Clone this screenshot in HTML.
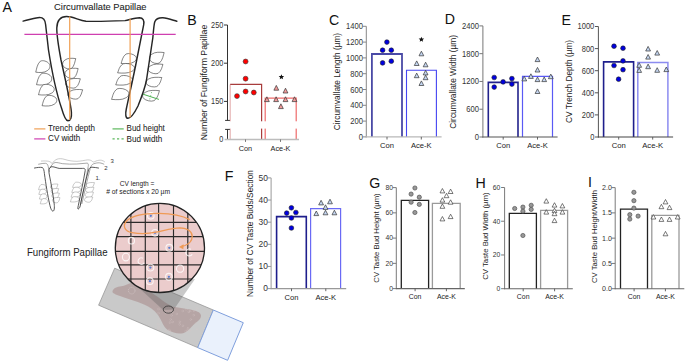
<!DOCTYPE html>
<html><head><meta charset="utf-8"><title>Figure</title>
<style>html,body{margin:0;padding:0;background:#fff;width:685px;height:364px;overflow:hidden;font-family:"Liberation Sans", sans-serif;}</style>
</head><body>
<svg width="685" height="364" viewBox="0 0 685 364" style="position:absolute;left:0;top:0" font-family='"Liberation Sans", sans-serif'>
<rect width="685" height="364" fill="#fff"/>
<text x="2.4" y="11.8" font-size="14.2" fill="#111" text-anchor="start" >A</text>
<text x="54.1" y="9.75" font-size="9.35" fill="#1e1e1e" text-anchor="start" stroke="#222" stroke-width="0.08">Circumvallate Papillae</text>
<path transform="translate(42.80,67.00) rotate(180) scale(0.944,1.058)" d="M2.6,5.5 C0,6.6 -4.6,5.6 -6.8,3 C-8.4,1.2 -7.4,-2.2 -4.8,-3.4 C-2,-5.6 3.5,-5.4 7.5,-4.9 C6.6,-2.4 6.2,2.6 2.6,5.5 Z" fill="#fff" stroke="#333" stroke-width="0.599" vector-effect="none"/>
<path transform="translate(44.10,79.50) rotate(180) scale(1.014,1.058)" d="M2.6,5.5 C0,6.6 -4.6,5.6 -6.8,3 C-8.4,1.2 -7.4,-2.2 -4.8,-3.4 C-2,-5.6 3.5,-5.4 7.5,-4.9 C6.6,-2.4 6.2,2.6 2.6,5.5 Z" fill="#fff" stroke="#333" stroke-width="0.579" vector-effect="none"/>
<path transform="translate(46.30,90.00) rotate(180) scale(1.049,0.962)" d="M2.6,5.5 C0,6.6 -4.6,5.6 -6.8,3 C-8.4,1.2 -7.4,-2.2 -4.8,-3.4 C-2,-5.6 3.5,-5.4 7.5,-4.9 C6.6,-2.4 6.2,2.6 2.6,5.5 Z" fill="#fff" stroke="#333" stroke-width="0.597" vector-effect="none"/>
<path transform="translate(49.40,101.00) rotate(180) scale(0.979,0.962)" d="M2.6,5.5 C0,6.6 -4.6,5.6 -6.8,3 C-8.4,1.2 -7.4,-2.2 -4.8,-3.4 C-2,-5.6 3.5,-5.4 7.5,-4.9 C6.6,-2.4 6.2,2.6 2.6,5.5 Z" fill="#fff" stroke="#333" stroke-width="0.618" vector-effect="none"/>
<path transform="translate(69.20,63.30) rotate(0) scale(0.874,0.962)" d="M2.6,5.5 C0,6.6 -4.6,5.6 -6.8,3 C-8.4,1.2 -7.4,-2.2 -4.8,-3.4 C-2,-5.6 3.5,-5.4 7.5,-4.9 C6.6,-2.4 6.2,2.6 2.6,5.5 Z" fill="#fff" stroke="#333" stroke-width="0.654" vector-effect="none"/>
<path transform="translate(71.60,73.00) rotate(0) scale(0.874,0.913)" d="M2.6,5.5 C0,6.6 -4.6,5.6 -6.8,3 C-8.4,1.2 -7.4,-2.2 -4.8,-3.4 C-2,-5.6 3.5,-5.4 7.5,-4.9 C6.6,-2.4 6.2,2.6 2.6,5.5 Z" fill="#fff" stroke="#333" stroke-width="0.671" vector-effect="none"/>
<path transform="translate(73.00,83.00) rotate(0) scale(0.979,0.865)" d="M2.6,5.5 C0,6.6 -4.6,5.6 -6.8,3 C-8.4,1.2 -7.4,-2.2 -4.8,-3.4 C-2,-5.6 3.5,-5.4 7.5,-4.9 C6.6,-2.4 6.2,2.6 2.6,5.5 Z" fill="#fff" stroke="#333" stroke-width="0.651" vector-effect="none"/>
<path transform="translate(75.30,94.00) rotate(0) scale(0.979,0.865)" d="M2.6,5.5 C0,6.6 -4.6,5.6 -6.8,3 C-8.4,1.2 -7.4,-2.2 -4.8,-3.4 C-2,-5.6 3.5,-5.4 7.5,-4.9 C6.6,-2.4 6.2,2.6 2.6,5.5 Z" fill="#fff" stroke="#333" stroke-width="0.651" vector-effect="none"/>
<path transform="translate(128.70,59.00) rotate(180) scale(1.014,0.913)" d="M2.6,5.5 C0,6.6 -4.6,5.6 -6.8,3 C-8.4,1.2 -7.4,-2.2 -4.8,-3.4 C-2,-5.6 3.5,-5.4 7.5,-4.9 C6.6,-2.4 6.2,2.6 2.6,5.5 Z" fill="#fff" stroke="#333" stroke-width="0.623" vector-effect="none"/>
<path transform="translate(126.00,68.60) rotate(180) scale(1.119,0.865)" d="M2.6,5.5 C0,6.6 -4.6,5.6 -6.8,3 C-8.4,1.2 -7.4,-2.2 -4.8,-3.4 C-2,-5.6 3.5,-5.4 7.5,-4.9 C6.6,-2.4 6.2,2.6 2.6,5.5 Z" fill="#fff" stroke="#333" stroke-width="0.605" vector-effect="none"/>
<path transform="translate(124.10,80.60) rotate(180) scale(1.119,0.865)" d="M2.6,5.5 C0,6.6 -4.6,5.6 -6.8,3 C-8.4,1.2 -7.4,-2.2 -4.8,-3.4 C-2,-5.6 3.5,-5.4 7.5,-4.9 C6.6,-2.4 6.2,2.6 2.6,5.5 Z" fill="#fff" stroke="#333" stroke-width="0.605" vector-effect="none"/>
<path transform="translate(120.20,94.40) rotate(180) scale(1.154,1.010)" d="M2.6,5.5 C0,6.6 -4.6,5.6 -6.8,3 C-8.4,1.2 -7.4,-2.2 -4.8,-3.4 C-2,-5.6 3.5,-5.4 7.5,-4.9 C6.6,-2.4 6.2,2.6 2.6,5.5 Z" fill="#fff" stroke="#333" stroke-width="0.555" vector-effect="none"/>
<path transform="translate(156.80,57.50) rotate(0) scale(0.979,1.010)" d="M2.6,5.5 C0,6.6 -4.6,5.6 -6.8,3 C-8.4,1.2 -7.4,-2.2 -4.8,-3.4 C-2,-5.6 3.5,-5.4 7.5,-4.9 C6.6,-2.4 6.2,2.6 2.6,5.5 Z" fill="#fff" stroke="#333" stroke-width="0.603" vector-effect="none"/>
<path transform="translate(155.60,68.60) rotate(0) scale(0.979,0.865)" d="M2.6,5.5 C0,6.6 -4.6,5.6 -6.8,3 C-8.4,1.2 -7.4,-2.2 -4.8,-3.4 C-2,-5.6 3.5,-5.4 7.5,-4.9 C6.6,-2.4 6.2,2.6 2.6,5.5 Z" fill="#fff" stroke="#333" stroke-width="0.651" vector-effect="none"/>
<path transform="translate(154.00,81.80) rotate(0) scale(1.049,0.865)" d="M2.6,5.5 C0,6.6 -4.6,5.6 -6.8,3 C-8.4,1.2 -7.4,-2.2 -4.8,-3.4 C-2,-5.6 3.5,-5.4 7.5,-4.9 C6.6,-2.4 6.2,2.6 2.6,5.5 Z" fill="#fff" stroke="#333" stroke-width="0.627" vector-effect="none"/>
<path transform="translate(151.10,95.40) rotate(0) scale(1.119,0.962)" d="M2.6,5.5 C0,6.6 -4.6,5.6 -6.8,3 C-8.4,1.2 -7.4,-2.2 -4.8,-3.4 C-2,-5.6 3.5,-5.4 7.5,-4.9 C6.6,-2.4 6.2,2.6 2.6,5.5 Z" fill="#fff" stroke="#333" stroke-width="0.577" vector-effect="none"/>
<path d="M23.1,21.1 C30,19.6 36,17.4 39.5,17.4 C43.5,17.6 45.3,20.2 45.6,24.5 L48.5,50 C52,72 57,95 61.5,108 C63.5,115 65.5,120.8 68,120.8 C70.8,120.8 71.8,117 71.4,112 C70.5,103 65.5,80 61,60 C58.6,47 56.6,36 56.8,28 C57,21 60.5,16.6 66.5,16.5 C73,16.4 79,20.4 86,21.2 C95,21.6 115,21 125,20.6 C130,19.6 134.5,17.8 139.5,17.8 C143,17.9 144.4,20.5 143.7,24.6 L136.9,59 C133.5,77 129,96 126.3,109 C125.2,114 125.6,118.4 128,118.3 C131,118.1 135,112 138,106 C142,96 145,88 146.5,80 L152.8,38 C153.6,30 153.8,25 154.8,21.8 C156,18.6 158.8,17.7 162.8,17.8 C168,18.2 173,20.2 176.8,21.2" fill="none" stroke="#262626" stroke-width="1.45" stroke-linejoin="round" stroke-linecap="round"/>
<line x1="24.4" y1="34.3" x2="175.7" y2="34.3" stroke="#cf3fb0" stroke-width="1.2"/>
<line x1="69.7" y1="16.6" x2="69.7" y2="120" stroke="#f0a055" stroke-width="1.2"/>
<line x1="130.1" y1="18.7" x2="130.1" y2="117.5" stroke="#f0a055" stroke-width="1.2"/>
<line x1="143" y1="94.2" x2="158.9" y2="99.4" stroke="#4caf50" stroke-width="1"/><line x1="151.6" y1="92.2" x2="149.6" y2="99.6" stroke="#4caf50" stroke-width="0.8" stroke-dasharray="1,2.2"/>
<line x1="34.2" y1="128.9" x2="45.4" y2="128.9" stroke="#f0a055" stroke-width="1.2"/>
<line x1="34.2" y1="138.9" x2="45.4" y2="138.9" stroke="#cf3fb0" stroke-width="1.2"/>
<line x1="112.5" y1="128.9" x2="123.7" y2="128.9" stroke="#5cb85c" stroke-width="1.2"/>
<line x1="112.5" y1="138.9" x2="123.7" y2="138.9" stroke="#5cb85c" stroke-width="1.2" stroke-dasharray="2.2,2.3"/>
<text x="48.1" y="130.5" font-size="8.6" fill="#222" text-anchor="start" stroke="#222" stroke-width="0.05" textLength="46.8" lengthAdjust="spacingAndGlyphs">Trench depth</text>
<text x="48.1" y="141.3" font-size="8.6" fill="#222" text-anchor="start" stroke="#222" stroke-width="0.05" textLength="32.2" lengthAdjust="spacingAndGlyphs">CV width</text>
<text x="126.6" y="130.5" font-size="8.6" fill="#222" text-anchor="start" stroke="#222" stroke-width="0.05" textLength="38.2" lengthAdjust="spacingAndGlyphs">Bud height</text>
<text x="126.6" y="141.5" font-size="8.6" fill="#222" text-anchor="start" stroke="#222" stroke-width="0.05" textLength="35.6" lengthAdjust="spacingAndGlyphs">Bud width</text>
<path transform="translate(42.30,187.30) rotate(180) scale(0.503,0.481)" d="M2.6,5.5 C0,6.6 -4.6,5.6 -6.8,3 C-8.4,1.2 -7.4,-2.2 -4.8,-3.4 C-2,-5.6 3.5,-5.4 7.5,-4.9 C6.6,-2.4 6.2,2.6 2.6,5.5 Z" fill="#fff" stroke="#888" stroke-width="0.914" vector-effect="none"/>
<path transform="translate(42.60,192.00) rotate(180) scale(0.503,0.481)" d="M2.6,5.5 C0,6.6 -4.6,5.6 -6.8,3 C-8.4,1.2 -7.4,-2.2 -4.8,-3.4 C-2,-5.6 3.5,-5.4 7.5,-4.9 C6.6,-2.4 6.2,2.6 2.6,5.5 Z" fill="#fff" stroke="#888" stroke-width="0.914" vector-effect="none"/>
<path transform="translate(43.20,196.70) rotate(180) scale(0.503,0.481)" d="M2.6,5.5 C0,6.6 -4.6,5.6 -6.8,3 C-8.4,1.2 -7.4,-2.2 -4.8,-3.4 C-2,-5.6 3.5,-5.4 7.5,-4.9 C6.6,-2.4 6.2,2.6 2.6,5.5 Z" fill="#fff" stroke="#888" stroke-width="0.914" vector-effect="none"/>
<path transform="translate(44.00,201.40) rotate(180) scale(0.503,0.481)" d="M2.6,5.5 C0,6.6 -4.6,5.6 -6.8,3 C-8.4,1.2 -7.4,-2.2 -4.8,-3.4 C-2,-5.6 3.5,-5.4 7.5,-4.9 C6.6,-2.4 6.2,2.6 2.6,5.5 Z" fill="#fff" stroke="#888" stroke-width="0.914" vector-effect="none"/>
<path transform="translate(54.20,186.50) rotate(0) scale(0.503,0.481)" d="M2.6,5.5 C0,6.6 -4.6,5.6 -6.8,3 C-8.4,1.2 -7.4,-2.2 -4.8,-3.4 C-2,-5.6 3.5,-5.4 7.5,-4.9 C6.6,-2.4 6.2,2.6 2.6,5.5 Z" fill="#fff" stroke="#888" stroke-width="0.914" vector-effect="none"/>
<path transform="translate(54.90,191.00) rotate(0) scale(0.503,0.481)" d="M2.6,5.5 C0,6.6 -4.6,5.6 -6.8,3 C-8.4,1.2 -7.4,-2.2 -4.8,-3.4 C-2,-5.6 3.5,-5.4 7.5,-4.9 C6.6,-2.4 6.2,2.6 2.6,5.5 Z" fill="#fff" stroke="#888" stroke-width="0.914" vector-effect="none"/>
<path transform="translate(55.60,195.50) rotate(0) scale(0.503,0.481)" d="M2.6,5.5 C0,6.6 -4.6,5.6 -6.8,3 C-8.4,1.2 -7.4,-2.2 -4.8,-3.4 C-2,-5.6 3.5,-5.4 7.5,-4.9 C6.6,-2.4 6.2,2.6 2.6,5.5 Z" fill="#fff" stroke="#888" stroke-width="0.914" vector-effect="none"/>
<path transform="translate(56.20,200.00) rotate(0) scale(0.503,0.481)" d="M2.6,5.5 C0,6.6 -4.6,5.6 -6.8,3 C-8.4,1.2 -7.4,-2.2 -4.8,-3.4 C-2,-5.6 3.5,-5.4 7.5,-4.9 C6.6,-2.4 6.2,2.6 2.6,5.5 Z" fill="#fff" stroke="#888" stroke-width="0.914" vector-effect="none"/>
<path transform="translate(77.00,185.00) rotate(180) scale(0.594,0.481)" d="M2.6,5.5 C0,6.6 -4.6,5.6 -6.8,3 C-8.4,1.2 -7.4,-2.2 -4.8,-3.4 C-2,-5.6 3.5,-5.4 7.5,-4.9 C6.6,-2.4 6.2,2.6 2.6,5.5 Z" fill="#fff" stroke="#888" stroke-width="0.837" vector-effect="none"/>
<path transform="translate(76.20,190.00) rotate(180) scale(0.594,0.481)" d="M2.6,5.5 C0,6.6 -4.6,5.6 -6.8,3 C-8.4,1.2 -7.4,-2.2 -4.8,-3.4 C-2,-5.6 3.5,-5.4 7.5,-4.9 C6.6,-2.4 6.2,2.6 2.6,5.5 Z" fill="#fff" stroke="#888" stroke-width="0.837" vector-effect="none"/>
<path transform="translate(75.50,194.80) rotate(180) scale(0.594,0.481)" d="M2.6,5.5 C0,6.6 -4.6,5.6 -6.8,3 C-8.4,1.2 -7.4,-2.2 -4.8,-3.4 C-2,-5.6 3.5,-5.4 7.5,-4.9 C6.6,-2.4 6.2,2.6 2.6,5.5 Z" fill="#fff" stroke="#888" stroke-width="0.837" vector-effect="none"/>
<path transform="translate(74.80,199.50) rotate(180) scale(0.594,0.481)" d="M2.6,5.5 C0,6.6 -4.6,5.6 -6.8,3 C-8.4,1.2 -7.4,-2.2 -4.8,-3.4 C-2,-5.6 3.5,-5.4 7.5,-4.9 C6.6,-2.4 6.2,2.6 2.6,5.5 Z" fill="#fff" stroke="#888" stroke-width="0.837" vector-effect="none"/>
<path transform="translate(90.30,185.00) rotate(0) scale(0.559,0.481)" d="M2.6,5.5 C0,6.6 -4.6,5.6 -6.8,3 C-8.4,1.2 -7.4,-2.2 -4.8,-3.4 C-2,-5.6 3.5,-5.4 7.5,-4.9 C6.6,-2.4 6.2,2.6 2.6,5.5 Z" fill="#fff" stroke="#888" stroke-width="0.865" vector-effect="none"/>
<path transform="translate(89.80,189.80) rotate(0) scale(0.559,0.481)" d="M2.6,5.5 C0,6.6 -4.6,5.6 -6.8,3 C-8.4,1.2 -7.4,-2.2 -4.8,-3.4 C-2,-5.6 3.5,-5.4 7.5,-4.9 C6.6,-2.4 6.2,2.6 2.6,5.5 Z" fill="#fff" stroke="#888" stroke-width="0.865" vector-effect="none"/>
<path transform="translate(89.30,194.60) rotate(0) scale(0.559,0.481)" d="M2.6,5.5 C0,6.6 -4.6,5.6 -6.8,3 C-8.4,1.2 -7.4,-2.2 -4.8,-3.4 C-2,-5.6 3.5,-5.4 7.5,-4.9 C6.6,-2.4 6.2,2.6 2.6,5.5 Z" fill="#fff" stroke="#888" stroke-width="0.865" vector-effect="none"/>
<path transform="translate(88.60,199.40) rotate(0) scale(0.559,0.481)" d="M2.6,5.5 C0,6.6 -4.6,5.6 -6.8,3 C-8.4,1.2 -7.4,-2.2 -4.8,-3.4 C-2,-5.6 3.5,-5.4 7.5,-4.9 C6.6,-2.4 6.2,2.6 2.6,5.5 Z" fill="#fff" stroke="#888" stroke-width="0.865" vector-effect="none"/>
<path d="M41,161.1 C44,160.8 47,161 48.7,161.3 C50.5,161.8 51.5,163 52.3,163.5 C53.5,161.5 55,160 57,159.2 C59,158.4 62,158.5 65,159.5 C69,160.8 73,161.3 77,161.3 C81,161.2 85,160.2 87.5,159.9 C90,159.8 91.5,160.5 92.5,161.5 C93.5,162.5 94.5,161.8 96,161 C98,160.3 100,160 101.5,160.3 C103,160.7 104,161.3 104.8,161.9" fill="none" stroke="#a8a8a8" stroke-width="0.6"/>
<path d="M38.2,164.3 C41,163.6 43.5,163.2 45.5,163.3 C47,163.5 47.8,164.5 48.2,166.5 L49.5,172" fill="none" stroke="#7a7a7a" stroke-width="0.65"/>
<path d="M50.3,168 C51,165.5 53,163 55.1,162.5 C57.5,162.3 60,163.3 62.7,163.7 C67,164.2 72,164.2 76.7,164 C80,163.8 84,163.3 87.2,163.1 C88.3,163.4 88.6,164.5 88.2,166.5 C86,180 83,193 80.3,205" fill="none" stroke="#7a7a7a" stroke-width="0.65"/>
<path d="M81.8,204 C84.5,192 87.5,179 90.5,167.5 C91.5,164.5 93,163.8 95,163.4 C97,162.8 99,162.6 101,163.1 C102.5,163.5 103.5,164 104.2,164.3" fill="none" stroke="#7a7a7a" stroke-width="0.65"/>
<path d="M34.1,168.1 C37,167.5 40,167.1 42.3,167.5 C43.6,168.2 44.1,170.5 44.4,173.5 C45.8,184 47.8,196 49.6,204 C50.6,208.5 51.6,211.1 52.9,211.1 C54.3,211.1 54.6,208 54.2,204 C53.2,195 51.2,184 49.2,174 C48.5,170.5 48.8,167.7 51,166.8 C53.5,166.3 56.5,168 59.2,168.4 L82.6,168.4 C84.2,168.2 85.4,168.6 85.2,170.6 C83.5,181 80.6,194 78.3,205.6 C77.6,208.6 77.7,209.5 78.5,208.9 C79.3,208.3 79.8,207.5 80.2,206 C82.5,194 85.7,180 88.6,169.9 C89.3,167.8 90.4,167.2 92,167.2 C94.5,167.3 96.8,167.8 98.9,168.1" fill="none" stroke="#2e2e2e" stroke-width="0.8" stroke-linejoin="round"/>
<text x="95.5" y="179.6" font-size="6" fill="#333" text-anchor="start" >1.</text>
<text x="104.3" y="170.3" font-size="6" fill="#333" text-anchor="start" >2</text>
<text x="110.6" y="162.9" font-size="6" fill="#333" text-anchor="start" >3</text>
<text x="137.05" y="186.1" font-size="7.0" fill="#222" text-anchor="middle" textLength="34.6" lengthAdjust="spacingAndGlyphs">CV length =</text>
<text x="138.1" y="193.9" font-size="6.75" fill="#222" text-anchor="middle" ># of sections x 20 µm</text>
<text x="26.95" y="255.6" font-size="11" fill="#222" text-anchor="start" textLength="80.6" lengthAdjust="spacingAndGlyphs">Fungiform Papillae</text>
<polygon points="114.7,268.2 213.3,310 197.7,347.6 98.6,305.2" fill="#c9c9c9" stroke="#8d8d8d" stroke-width="0.7"/>
<polygon points="213.3,310 243.3,322.7 227.6,360.3 197.7,347.6" fill="#eaf1fc" stroke="#7f9fdd" stroke-width="1"/>
<path d="M112.5,291.3 C113.5,288 117,286.8 121.2,286.3 C125,285.8 128,284 131,283 C138,285 146,289 152,293 C160,298 166,304 173,306.7 C180,308 186,308.5 190.4,309.6 C196,311 200.5,312 201,315.5 C201,319 198,321 195,323.5 C191,327 188,332 183,333.2 C178,334.5 171,332 167,329.5 C163,326 161.5,320 158,315 C154,310 150,307 144,304.5 C136,301 127,298.5 120,296 C116,294.5 112,293.5 112.5,291.3 Z" fill="#b29c9c" opacity="0.8"/>
<circle cx="182.9" cy="325.8" r="0.9" fill="none" stroke="#d6c6c6" stroke-width="0.45" stroke-dasharray="0.8,0.6"/>
<circle cx="189.8" cy="330.6" r="0.9" fill="none" stroke="#d6c6c6" stroke-width="0.45" stroke-dasharray="0.8,0.6"/>
<circle cx="187.6" cy="330.1" r="0.9" fill="none" stroke="#d6c6c6" stroke-width="0.45" stroke-dasharray="0.8,0.6"/>
<circle cx="159.2" cy="319.2" r="0.9" fill="none" stroke="#d6c6c6" stroke-width="0.45" stroke-dasharray="0.8,0.6"/>
<circle cx="195.7" cy="323.6" r="0.9" fill="none" stroke="#d6c6c6" stroke-width="0.45" stroke-dasharray="0.8,0.6"/>
<circle cx="194.0" cy="310.7" r="0.9" fill="none" stroke="#d6c6c6" stroke-width="0.45" stroke-dasharray="0.8,0.6"/>
<circle cx="176.8" cy="313.9" r="0.9" fill="none" stroke="#d6c6c6" stroke-width="0.45" stroke-dasharray="0.8,0.6"/>
<circle cx="179.8" cy="321.8" r="0.9" fill="none" stroke="#d6c6c6" stroke-width="0.45" stroke-dasharray="0.8,0.6"/>
<circle cx="158.5" cy="313.2" r="0.9" fill="none" stroke="#d6c6c6" stroke-width="0.45" stroke-dasharray="0.8,0.6"/>
<circle cx="169.2" cy="330.0" r="0.9" fill="none" stroke="#d6c6c6" stroke-width="0.45" stroke-dasharray="0.8,0.6"/>
<circle cx="188.6" cy="311.8" r="0.9" fill="none" stroke="#d6c6c6" stroke-width="0.45" stroke-dasharray="0.8,0.6"/>
<circle cx="189.9" cy="311.3" r="0.9" fill="none" stroke="#d6c6c6" stroke-width="0.45" stroke-dasharray="0.8,0.6"/>
<circle cx="182.7" cy="311.0" r="0.9" fill="none" stroke="#d6c6c6" stroke-width="0.45" stroke-dasharray="0.8,0.6"/>
<circle cx="158.1" cy="328.9" r="0.9" fill="none" stroke="#d6c6c6" stroke-width="0.45" stroke-dasharray="0.8,0.6"/>
<circle cx="166.4" cy="313.2" r="0.9" fill="none" stroke="#d6c6c6" stroke-width="0.45" stroke-dasharray="0.8,0.6"/>
<circle cx="197.3" cy="328.9" r="0.9" fill="none" stroke="#d6c6c6" stroke-width="0.45" stroke-dasharray="0.8,0.6"/>
<circle cx="169.6" cy="331.1" r="0.9" fill="none" stroke="#d6c6c6" stroke-width="0.45" stroke-dasharray="0.8,0.6"/>
<circle cx="179.6" cy="324.3" r="0.9" fill="none" stroke="#d6c6c6" stroke-width="0.45" stroke-dasharray="0.8,0.6"/>
<circle cx="166.2" cy="330.6" r="0.9" fill="none" stroke="#d6c6c6" stroke-width="0.45" stroke-dasharray="0.8,0.6"/>
<circle cx="185.6" cy="331.2" r="0.9" fill="none" stroke="#d6c6c6" stroke-width="0.45" stroke-dasharray="0.8,0.6"/>
<circle cx="193.7" cy="315.2" r="0.9" fill="none" stroke="#d6c6c6" stroke-width="0.45" stroke-dasharray="0.8,0.6"/>
<circle cx="172.4" cy="312.0" r="0.9" fill="none" stroke="#d6c6c6" stroke-width="0.45" stroke-dasharray="0.8,0.6"/>
<circle cx="163.8" cy="309.6" r="0.9" fill="none" stroke="#d6c6c6" stroke-width="0.45" stroke-dasharray="0.8,0.6"/>
<circle cx="170.1" cy="322.5" r="0.9" fill="none" stroke="#d6c6c6" stroke-width="0.45" stroke-dasharray="0.8,0.6"/>
<circle cx="158.1" cy="324.3" r="0.9" fill="none" stroke="#d6c6c6" stroke-width="0.45" stroke-dasharray="0.8,0.6"/>
<circle cx="171.5" cy="315.4" r="0.9" fill="none" stroke="#d6c6c6" stroke-width="0.45" stroke-dasharray="0.8,0.6"/>
<circle cx="190.7" cy="319.5" r="0.9" fill="none" stroke="#d6c6c6" stroke-width="0.45" stroke-dasharray="0.8,0.6"/>
<circle cx="170.6" cy="319.5" r="0.9" fill="none" stroke="#d6c6c6" stroke-width="0.45" stroke-dasharray="0.8,0.6"/>
<circle cx="186.2" cy="309.4" r="0.9" fill="none" stroke="#d6c6c6" stroke-width="0.45" stroke-dasharray="0.8,0.6"/>
<circle cx="197.0" cy="308.5" r="0.9" fill="none" stroke="#d6c6c6" stroke-width="0.45" stroke-dasharray="0.8,0.6"/>
<circle cx="188.0" cy="328.3" r="0.9" fill="none" stroke="#d6c6c6" stroke-width="0.45" stroke-dasharray="0.8,0.6"/>
<circle cx="158.7" cy="326.9" r="0.9" fill="none" stroke="#d6c6c6" stroke-width="0.45" stroke-dasharray="0.8,0.6"/>
<circle cx="172.6" cy="321.9" r="0.9" fill="none" stroke="#d6c6c6" stroke-width="0.45" stroke-dasharray="0.8,0.6"/>
<circle cx="158.4" cy="309.1" r="0.9" fill="none" stroke="#d6c6c6" stroke-width="0.45" stroke-dasharray="0.8,0.6"/>
<circle cx="131.7" cy="290.6" r="3.3" fill="none" stroke="#d8cccc" stroke-width="0.6" stroke-dasharray="1.2,0.9"/>
<polygon points="139,288 195,279 173.8,309.4 163.2,310" fill="#5a5a5a" opacity="0.33"/>
<ellipse cx="168.4" cy="309.6" rx="5.1" ry="3.6" fill="none" stroke="#333" stroke-width="0.8"/>
<defs><filter id="sb" x="-50%" y="-50%" width="200%" height="200%"><feGaussianBlur stdDeviation="0.35"/></filter></defs>
<defs><clipPath id="cc"><circle cx="159.9" cy="247.9" r="44.6"/></clipPath></defs>
<circle cx="159.9" cy="247.9" r="44.6" fill="#ebcccc"/>
<g clip-path="url(#cc)" stroke="#2a2a2a" stroke-width="1.15"><line x1="130.9" y1="200" x2="130.9" y2="296"/><line x1="145.3" y1="200" x2="145.3" y2="296"/><line x1="158.6" y1="200" x2="158.6" y2="296"/><line x1="173.5" y1="200" x2="173.5" y2="296"/><line x1="187.8" y1="200" x2="187.8" y2="296"/><line x1="112" y1="222.3" x2="208" y2="222.3"/><line x1="112" y1="236.6" x2="208" y2="236.6"/><line x1="112" y1="251.4" x2="208" y2="251.4"/><line x1="112" y1="264.8" x2="208" y2="264.8"/><line x1="112" y1="279.0" x2="208" y2="279.0"/></g>
<ellipse cx="150.8" cy="215.8" rx="3.3" ry="3.3" fill="none" stroke="#fff" stroke-width="1.1" opacity="0.78" filter="url(#sb)"/>
<circle cx="150.8" cy="215.8" r="1.15" fill="#5a7ed0"/>
<ellipse cx="155.0" cy="232.8" rx="3.3" ry="3.3" fill="none" stroke="#fff" stroke-width="1.1" opacity="0.78" filter="url(#sb)"/>
<circle cx="155.0" cy="232.8" r="1.15" fill="#5a7ed0"/>
<ellipse cx="169.3" cy="247.8" rx="3.4" ry="3.4" fill="none" stroke="#fff" stroke-width="1.1" opacity="0.78" filter="url(#sb)"/>
<circle cx="169.3" cy="247.8" r="1.15" fill="#5a7ed0"/>
<ellipse cx="150.4" cy="267.6" rx="3.4" ry="3.4" fill="none" stroke="#fff" stroke-width="1.1" opacity="0.78" filter="url(#sb)"/>
<circle cx="150.4" cy="267.6" r="1.15" fill="#5a7ed0"/>
<ellipse cx="149.9" cy="281.2" rx="3.3" ry="3.3" fill="none" stroke="#fff" stroke-width="1.1" opacity="0.78" filter="url(#sb)"/>
<circle cx="149.9" cy="281.2" r="1.15" fill="#5a7ed0"/>
<ellipse cx="168.9" cy="276.8" rx="3.3" ry="3.4" fill="none" stroke="#fff" stroke-width="1.1" opacity="0.78" filter="url(#sb)"/>
<circle cx="168.9" cy="276.8" r="1.15" fill="#5a7ed0"/>
<ellipse cx="131.4" cy="240.7" rx="3.1" ry="3.3" fill="none" stroke="#fff" stroke-width="1.1" opacity="0.78" filter="url(#sb)"/>
<ellipse cx="125.9" cy="257.1" rx="3.5" ry="3.8" fill="none" stroke="#fff" stroke-width="1.1" opacity="0.78" filter="url(#sb)"/>
<path d="M143.00,258.32 A3.2,3.2 0 1 0 144.18,262.70" fill="none" stroke="#fff" stroke-width="1.1" opacity="0.78" filter="url(#sb)"/>
<path d="M190.95,249.36 A3.3,3.5 0 1 0 192.17,254.15" fill="none" stroke="#fff" stroke-width="1.1" opacity="0.78" filter="url(#sb)"/>
<ellipse cx="180.1" cy="268.7" rx="3.6" ry="3.6" fill="none" stroke="#fff" stroke-width="1.1" opacity="0.78" filter="url(#sb)"/>
<path d="M189.7,219.6 C183,216 172,213.6 158.8,213.4 C146,213.3 133,215.5 127,220.5 C122,225.5 124.5,231.3 132,232.6 C140,234 150,233.4 156,232.2 C164,230.6 172,227.8 180,227.8 C188,228 192.4,232 192.2,236.5 C192,240.5 189.5,243.8 185,245.5 L182.6,246.2" fill="none" stroke="#ef9a55" stroke-width="1.3"/>
<path d="M178.9,246.9 L183.6,244.2 L183.4,249.3 Z" fill="#ef9a55"/>
<circle cx="159.9" cy="247.9" r="44.6" fill="none" stroke="#222" stroke-width="1.3"/>
<text x="329.1" y="24.6" font-size="14.2" fill="#111" text-anchor="start" >C</text>
<text transform="translate(340.3,81.6) rotate(-90)" font-size="8.3" fill="#222" text-anchor="middle">Circumvallate Length (µm)</text>
<path d="M371.9,136.9 L371.9,54.0 L402.0,54.0 L402.0,136.9" fill="none" stroke="#4a4aa6" stroke-width="1.8"/>
<path d="M406.5,136.9 L406.5,70.2 L436.4,70.2 L436.4,136.9" fill="none" stroke="#4545f2" stroke-width="1.1"/>
<line x1="366.3" y1="26.3" x2="366.3" y2="137.4" stroke="#888" stroke-width="1" />
<line x1="362.8" y1="136.9" x2="366.3" y2="136.9" stroke="#888" stroke-width="1" />
<text x="362.9" y="139.91" font-size="8.74" fill="#333" text-anchor="end" textLength="4.23" lengthAdjust="spacingAndGlyphs">0</text>
<line x1="362.8" y1="121.1" x2="366.3" y2="121.1" stroke="#888" stroke-width="1" />
<text x="362.9" y="124.11" font-size="8.74" fill="#333" text-anchor="end" textLength="12.68" lengthAdjust="spacingAndGlyphs">200</text>
<line x1="362.8" y1="105.3" x2="366.3" y2="105.3" stroke="#888" stroke-width="1" />
<text x="362.9" y="108.31" font-size="8.74" fill="#333" text-anchor="end" textLength="12.68" lengthAdjust="spacingAndGlyphs">400</text>
<line x1="362.8" y1="89.5" x2="366.3" y2="89.5" stroke="#888" stroke-width="1" />
<text x="362.9" y="92.51" font-size="8.74" fill="#333" text-anchor="end" textLength="12.68" lengthAdjust="spacingAndGlyphs">600</text>
<line x1="362.8" y1="73.7" x2="366.3" y2="73.7" stroke="#888" stroke-width="1" />
<text x="362.9" y="76.71" font-size="8.74" fill="#333" text-anchor="end" textLength="12.68" lengthAdjust="spacingAndGlyphs">800</text>
<line x1="362.8" y1="57.9" x2="366.3" y2="57.9" stroke="#888" stroke-width="1" />
<text x="362.9" y="60.91" font-size="8.74" fill="#333" text-anchor="end" textLength="16.91" lengthAdjust="spacingAndGlyphs">1000</text>
<line x1="362.8" y1="42.1" x2="366.3" y2="42.1" stroke="#888" stroke-width="1" />
<text x="362.9" y="45.11" font-size="8.74" fill="#333" text-anchor="end" textLength="16.91" lengthAdjust="spacingAndGlyphs">1200</text>
<line x1="362.8" y1="26.3" x2="366.3" y2="26.3" stroke="#888" stroke-width="1" />
<text x="362.9" y="29.31" font-size="8.74" fill="#333" text-anchor="end" textLength="16.91" lengthAdjust="spacingAndGlyphs">1400</text>
<line x1="365.8" y1="136.9" x2="441.6" y2="136.9" stroke="#b8b8b8" stroke-width="1.4" />
<line x1="387.0" y1="136.9" x2="387.0" y2="139.5" stroke="#555" stroke-width="0.9" />
<text x="387.0" y="147.7" font-size="7.6" fill="#222" text-anchor="middle" >Con</text>
<line x1="421.3" y1="136.9" x2="421.3" y2="139.5" stroke="#555" stroke-width="0.9" />
<text x="421.3" y="147.7" font-size="7.6" fill="#222" text-anchor="middle" >Ace-K</text>
<circle cx="386.9" cy="42.1" r="2.35" fill="#0000e0" stroke="#222" stroke-width="0.6"/>
<circle cx="382.6" cy="50.2" r="2.35" fill="#0000e0" stroke="#222" stroke-width="0.6"/>
<circle cx="391.3" cy="50.2" r="2.35" fill="#0000e0" stroke="#222" stroke-width="0.6"/>
<circle cx="382.6" cy="62.9" r="2.35" fill="#0000e0" stroke="#222" stroke-width="0.6"/>
<circle cx="391.3" cy="61.2" r="2.35" fill="#0000e0" stroke="#222" stroke-width="0.6"/>
<path d="M421.40,51.20 L423.80,55.80 L419.00,55.80 Z" fill="#c4d6f2" stroke="#333" stroke-width="0.7" stroke-linejoin="round"/>
<path d="M416.70,60.90 L419.10,65.50 L414.30,65.50 Z" fill="#c4d6f2" stroke="#333" stroke-width="0.7" stroke-linejoin="round"/>
<path d="M425.60,62.20 L428.00,66.80 L423.20,66.80 Z" fill="#c4d6f2" stroke="#333" stroke-width="0.7" stroke-linejoin="round"/>
<path d="M425.60,70.30 L428.00,74.90 L423.20,74.90 Z" fill="#c4d6f2" stroke="#333" stroke-width="0.7" stroke-linejoin="round"/>
<path d="M416.70,73.10 L419.10,77.70 L414.30,77.70 Z" fill="#c4d6f2" stroke="#333" stroke-width="0.7" stroke-linejoin="round"/>
<path d="M425.60,75.10 L428.00,79.70 L423.20,79.70 Z" fill="#c4d6f2" stroke="#333" stroke-width="0.7" stroke-linejoin="round"/>
<path d="M421.40,80.90 L423.80,85.50 L419.00,85.50 Z" fill="#c4d6f2" stroke="#333" stroke-width="0.7" stroke-linejoin="round"/>
<polygon points="421.40,36.65 422.16,38.45 424.11,38.62 422.64,39.90 423.08,41.81 421.40,40.80 419.72,41.81 420.16,39.90 418.69,38.62 420.64,38.45" fill="#111"/>
<text x="444.7" y="23.6" font-size="14.2" fill="#111" text-anchor="start" >D</text>
<text transform="translate(456.1,81.85) rotate(-90)" font-size="8.35" fill="#222" text-anchor="middle">Circumvallate Width (µm)</text>
<path d="M488.3,137.0 L488.3,82.4 L518.0,82.4 L518.0,137.0" fill="none" stroke="#22228c" stroke-width="1.6"/>
<path d="M522.5,137.0 L522.5,76.4 L552.5,76.4 L552.5,137.0" fill="none" stroke="#5a5af5" stroke-width="1.2"/>
<line x1="482.9" y1="25.9" x2="482.9" y2="137.5" stroke="#777" stroke-width="1" />
<line x1="479.4" y1="137.0" x2="482.9" y2="137.0" stroke="#777" stroke-width="1" />
<text x="479.0" y="140.01" font-size="8.74" fill="#333" text-anchor="end" textLength="4.23" lengthAdjust="spacingAndGlyphs">0</text>
<line x1="479.4" y1="109.22" x2="482.9" y2="109.22" stroke="#777" stroke-width="1" />
<text x="479.0" y="112.23" font-size="8.74" fill="#333" text-anchor="end" textLength="12.68" lengthAdjust="spacingAndGlyphs">600</text>
<line x1="479.4" y1="81.45" x2="482.9" y2="81.45" stroke="#777" stroke-width="1" />
<text x="479.0" y="84.46" font-size="8.74" fill="#333" text-anchor="end" textLength="16.91" lengthAdjust="spacingAndGlyphs">1200</text>
<line x1="479.4" y1="53.67" x2="482.9" y2="53.67" stroke="#777" stroke-width="1" />
<text x="479.0" y="56.68" font-size="8.74" fill="#333" text-anchor="end" textLength="16.91" lengthAdjust="spacingAndGlyphs">1800</text>
<line x1="479.4" y1="25.9" x2="482.9" y2="25.9" stroke="#777" stroke-width="1" />
<text x="479.0" y="28.91" font-size="8.74" fill="#333" text-anchor="end" textLength="16.91" lengthAdjust="spacingAndGlyphs">2400</text>
<line x1="482.4" y1="137.0" x2="557.6" y2="137.0" stroke="#555" stroke-width="1.2" />
<line x1="503.2" y1="137.0" x2="503.2" y2="139.6" stroke="#555" stroke-width="0.9" />
<text x="503.2" y="148.0" font-size="7.6" fill="#222" text-anchor="middle" >Con</text>
<line x1="537.5" y1="137.0" x2="537.5" y2="139.6" stroke="#555" stroke-width="0.9" />
<text x="537.5" y="148.0" font-size="7.6" fill="#222" text-anchor="middle" >Ace-K</text>
<circle cx="494.2" cy="77.5" r="2.35" fill="#0000e0" stroke="#222" stroke-width="0.6"/>
<circle cx="494.2" cy="87.1" r="2.35" fill="#0000e0" stroke="#222" stroke-width="0.6"/>
<circle cx="503.1" cy="81.9" r="2.35" fill="#0000e0" stroke="#222" stroke-width="0.6"/>
<circle cx="511.9" cy="78.6" r="2.35" fill="#0000e0" stroke="#222" stroke-width="0.6"/>
<circle cx="511.9" cy="84.1" r="2.35" fill="#0000e0" stroke="#222" stroke-width="0.6"/>
<path d="M537.50,57.00 L539.90,61.60 L535.10,61.60 Z" fill="#c4d6f2" stroke="#333" stroke-width="0.7" stroke-linejoin="round"/>
<path d="M537.50,67.40 L539.90,72.00 L535.10,72.00 Z" fill="#c4d6f2" stroke="#333" stroke-width="0.7" stroke-linejoin="round"/>
<path d="M524.30,76.30 L526.70,80.90 L521.90,80.90 Z" fill="#c4d6f2" stroke="#333" stroke-width="0.7" stroke-linejoin="round"/>
<path d="M530.90,73.80 L533.30,78.40 L528.50,78.40 Z" fill="#c4d6f2" stroke="#333" stroke-width="0.7" stroke-linejoin="round"/>
<path d="M537.50,77.00 L539.90,81.60 L535.10,81.60 Z" fill="#c4d6f2" stroke="#333" stroke-width="0.7" stroke-linejoin="round"/>
<path d="M544.20,77.00 L546.60,81.60 L541.80,81.60 Z" fill="#c4d6f2" stroke="#333" stroke-width="0.7" stroke-linejoin="round"/>
<path d="M550.80,74.10 L553.20,78.70 L548.40,78.70 Z" fill="#c4d6f2" stroke="#333" stroke-width="0.7" stroke-linejoin="round"/>
<path d="M537.50,88.90 L539.90,93.50 L535.10,93.50 Z" fill="#c4d6f2" stroke="#333" stroke-width="0.7" stroke-linejoin="round"/>
<text x="561.6" y="24.8" font-size="14.2" fill="#111" text-anchor="start" >E</text>
<text transform="translate(571.5,81.45) rotate(-90)" font-size="8.3" fill="#222" text-anchor="middle">CV Trench Depth (µm)</text>
<path d="M603.6,137.0 L603.6,61.9 L633.6,61.9 L633.6,137.0" fill="none" stroke="#1e1e8c" stroke-width="1.6"/>
<path d="M637.8,137.0 L637.8,62.6 L667.9,62.6 L667.9,137.0" fill="none" stroke="#8c8cf0" stroke-width="1.5"/>
<line x1="598.4" y1="26.5" x2="598.4" y2="137.5" stroke="#555" stroke-width="1" />
<line x1="594.9" y1="137.0" x2="598.4" y2="137.0" stroke="#555" stroke-width="1" />
<text x="594.3" y="139.97" font-size="8.62" fill="#333" text-anchor="end" textLength="4.17" lengthAdjust="spacingAndGlyphs">0</text>
<line x1="594.9" y1="114.9" x2="598.4" y2="114.9" stroke="#555" stroke-width="1" />
<text x="594.3" y="117.87" font-size="8.62" fill="#333" text-anchor="end" textLength="12.51" lengthAdjust="spacingAndGlyphs">200</text>
<line x1="594.9" y1="92.8" x2="598.4" y2="92.8" stroke="#555" stroke-width="1" />
<text x="594.3" y="95.77" font-size="8.62" fill="#333" text-anchor="end" textLength="12.51" lengthAdjust="spacingAndGlyphs">400</text>
<line x1="594.9" y1="70.7" x2="598.4" y2="70.7" stroke="#555" stroke-width="1" />
<text x="594.3" y="73.67" font-size="8.62" fill="#333" text-anchor="end" textLength="12.51" lengthAdjust="spacingAndGlyphs">600</text>
<line x1="594.9" y1="48.6" x2="598.4" y2="48.6" stroke="#555" stroke-width="1" />
<text x="594.3" y="51.57" font-size="8.62" fill="#333" text-anchor="end" textLength="12.51" lengthAdjust="spacingAndGlyphs">800</text>
<line x1="594.9" y1="26.5" x2="598.4" y2="26.5" stroke="#555" stroke-width="1" />
<text x="594.3" y="29.47" font-size="8.62" fill="#333" text-anchor="end" textLength="16.68" lengthAdjust="spacingAndGlyphs">1000</text>
<line x1="597.9" y1="137.0" x2="673.1" y2="137.0" stroke="#444" stroke-width="1.2" />
<line x1="618.7" y1="137.0" x2="618.7" y2="139.6" stroke="#555" stroke-width="0.9" />
<text x="618.7" y="148.0" font-size="7.7" fill="#222" text-anchor="middle" >Con</text>
<line x1="652.7" y1="137.0" x2="652.7" y2="139.6" stroke="#555" stroke-width="0.9" />
<text x="652.7" y="148.0" font-size="7.7" fill="#222" text-anchor="middle" >Ace-K</text>
<circle cx="614" cy="46.2" r="2.35" fill="#0000e0" stroke="#222" stroke-width="0.6"/>
<circle cx="623" cy="48.2" r="2.35" fill="#0000e0" stroke="#222" stroke-width="0.6"/>
<circle cx="623" cy="60.9" r="2.35" fill="#0000e0" stroke="#222" stroke-width="0.6"/>
<circle cx="614" cy="65.5" r="2.35" fill="#0000e0" stroke="#222" stroke-width="0.6"/>
<circle cx="623" cy="69.7" r="2.35" fill="#0000e0" stroke="#222" stroke-width="0.6"/>
<circle cx="618.6" cy="79.2" r="2.35" fill="#0000e0" stroke="#222" stroke-width="0.6"/>
<path d="M648.10,46.40 L650.50,51.00 L645.70,51.00 Z" fill="#c4d6f2" stroke="#333" stroke-width="0.7" stroke-linejoin="round"/>
<path d="M657.20,50.50 L659.60,55.10 L654.80,55.10 Z" fill="#c4d6f2" stroke="#333" stroke-width="0.7" stroke-linejoin="round"/>
<path d="M648.10,54.50 L650.50,59.10 L645.70,59.10 Z" fill="#c4d6f2" stroke="#333" stroke-width="0.7" stroke-linejoin="round"/>
<path d="M639.20,62.70 L641.60,67.30 L636.80,67.30 Z" fill="#c4d6f2" stroke="#333" stroke-width="0.7" stroke-linejoin="round"/>
<path d="M639.20,67.80 L641.60,72.40 L636.80,72.40 Z" fill="#c4d6f2" stroke="#333" stroke-width="0.7" stroke-linejoin="round"/>
<path d="M648.10,64.10 L650.50,68.70 L645.70,68.70 Z" fill="#c4d6f2" stroke="#333" stroke-width="0.7" stroke-linejoin="round"/>
<path d="M657.20,67.70 L659.60,72.30 L654.80,72.30 Z" fill="#c4d6f2" stroke="#333" stroke-width="0.7" stroke-linejoin="round"/>
<path d="M666.30,67.00 L668.70,71.60 L663.90,71.60 Z" fill="#c4d6f2" stroke="#333" stroke-width="0.7" stroke-linejoin="round"/>
<text x="224.8" y="180.9" font-size="14.2" fill="#111" text-anchor="start" >F</text>
<text transform="translate(253.1,233.45) rotate(-90)" font-size="8.4" fill="#222" text-anchor="middle">Number of CV Taste Buds/Section</text>
<path d="M276.6,288.6 L276.6,216.6 L306.3,216.6 L306.3,288.6" fill="none" stroke="#1e1e8c" stroke-width="1.6"/>
<path d="M310.6,288.6 L310.6,208.6 L340.6,208.6 L340.6,288.6" fill="none" stroke="#6a6af5" stroke-width="1.2"/>
<line x1="271.1" y1="177.9" x2="271.1" y2="289.1" stroke="#999" stroke-width="1" />
<line x1="267.6" y1="288.6" x2="271.1" y2="288.6" stroke="#999" stroke-width="1" />
<text x="267.8" y="291.49" font-size="8.4" fill="#333" text-anchor="end" >0</text>
<line x1="267.6" y1="266.46" x2="271.1" y2="266.46" stroke="#999" stroke-width="1" />
<text x="267.8" y="269.35" font-size="8.4" fill="#333" text-anchor="end" >10</text>
<line x1="267.6" y1="244.32" x2="271.1" y2="244.32" stroke="#999" stroke-width="1" />
<text x="267.8" y="247.21" font-size="8.4" fill="#333" text-anchor="end" >20</text>
<line x1="267.6" y1="222.18" x2="271.1" y2="222.18" stroke="#999" stroke-width="1" />
<text x="267.8" y="225.07" font-size="8.4" fill="#333" text-anchor="end" >30</text>
<line x1="267.6" y1="200.04" x2="271.1" y2="200.04" stroke="#999" stroke-width="1" />
<text x="267.8" y="202.93" font-size="8.4" fill="#333" text-anchor="end" >40</text>
<line x1="267.6" y1="177.9" x2="271.1" y2="177.9" stroke="#999" stroke-width="1" />
<text x="267.8" y="180.79" font-size="8.4" fill="#333" text-anchor="end" >50</text>
<line x1="270.6" y1="288.6" x2="346.2" y2="288.6" stroke="#999" stroke-width="1.3" />
<line x1="291.5" y1="288.6" x2="291.5" y2="291.20000000000005" stroke="#555" stroke-width="0.9" />
<text x="291.5" y="299.7" font-size="7.6" fill="#222" text-anchor="middle" >Con</text>
<line x1="325.8" y1="288.6" x2="325.8" y2="291.20000000000005" stroke="#555" stroke-width="0.9" />
<text x="325.8" y="299.7" font-size="7.6" fill="#222" text-anchor="middle" >Ace-K</text>
<circle cx="291.4" cy="207.8" r="2.35" fill="#0000e0" stroke="#222" stroke-width="0.6"/>
<circle cx="286.7" cy="213.1" r="2.35" fill="#0000e0" stroke="#222" stroke-width="0.6"/>
<circle cx="295.9" cy="212.5" r="2.35" fill="#0000e0" stroke="#222" stroke-width="0.6"/>
<circle cx="291.4" cy="218" r="2.35" fill="#0000e0" stroke="#222" stroke-width="0.6"/>
<circle cx="291.4" cy="228" r="2.35" fill="#0000e0" stroke="#222" stroke-width="0.6"/>
<path d="M321.10,200.30 L323.50,204.90 L318.70,204.90 Z" fill="#c4d6f2" stroke="#333" stroke-width="0.7" stroke-linejoin="round"/>
<path d="M330.00,199.20 L332.40,203.80 L327.60,203.80 Z" fill="#c4d6f2" stroke="#333" stroke-width="0.7" stroke-linejoin="round"/>
<path d="M325.50,204.80 L327.90,209.40 L323.10,209.40 Z" fill="#c4d6f2" stroke="#333" stroke-width="0.7" stroke-linejoin="round"/>
<path d="M316.30,211.00 L318.70,215.60 L313.90,215.60 Z" fill="#c4d6f2" stroke="#333" stroke-width="0.7" stroke-linejoin="round"/>
<path d="M325.50,210.20 L327.90,214.80 L323.10,214.80 Z" fill="#c4d6f2" stroke="#333" stroke-width="0.7" stroke-linejoin="round"/>
<path d="M334.40,210.20 L336.80,214.80 L332.00,214.80 Z" fill="#c4d6f2" stroke="#333" stroke-width="0.7" stroke-linejoin="round"/>
<text x="369.2" y="187.9" font-size="14.2" fill="#111" text-anchor="start" >G</text>
<text transform="translate(379.4,238.0) rotate(-90)" font-size="7.7" fill="#222" text-anchor="middle">CV Taste Bud Height (µm)</text>
<path d="M401.3,288.6 L401.3,200.4 L428.6,200.4 L428.6,288.6" fill="none" stroke="#222" stroke-width="1.3"/>
<path d="M432.4,288.6 L432.4,203.3 L460.2,203.3 L460.2,288.6" fill="none" stroke="#9a9a9a" stroke-width="1.3"/>
<line x1="396.3" y1="187.6" x2="396.3" y2="289.1" stroke="#7a7a7a" stroke-width="1" />
<line x1="392.8" y1="288.6" x2="396.3" y2="288.6" stroke="#7a7a7a" stroke-width="1" />
<text x="393.0" y="290.94" font-size="6.8" fill="#333" text-anchor="end" >0</text>
<line x1="392.8" y1="263.35" x2="396.3" y2="263.35" stroke="#7a7a7a" stroke-width="1" />
<text x="393.0" y="265.69" font-size="6.8" fill="#333" text-anchor="end" >20</text>
<line x1="392.8" y1="238.1" x2="396.3" y2="238.1" stroke="#7a7a7a" stroke-width="1" />
<text x="393.0" y="240.44" font-size="6.8" fill="#333" text-anchor="end" >40</text>
<line x1="392.8" y1="212.85" x2="396.3" y2="212.85" stroke="#7a7a7a" stroke-width="1" />
<text x="393.0" y="215.19" font-size="6.8" fill="#333" text-anchor="end" >60</text>
<line x1="392.8" y1="187.6" x2="396.3" y2="187.6" stroke="#7a7a7a" stroke-width="1" />
<text x="393.0" y="189.94" font-size="6.8" fill="#333" text-anchor="end" >80</text>
<line x1="395.8" y1="288.6" x2="464.8" y2="288.6" stroke="#666" stroke-width="1.1" />
<line x1="415.1" y1="288.6" x2="415.1" y2="291.20000000000005" stroke="#555" stroke-width="0.9" />
<text x="415.1" y="298.6" font-size="6.9" fill="#222" text-anchor="middle" >Con</text>
<line x1="446.4" y1="288.6" x2="446.4" y2="291.20000000000005" stroke="#555" stroke-width="0.9" />
<text x="446.4" y="298.6" font-size="6.9" fill="#222" text-anchor="middle" >Ace-K</text>
<circle cx="414.9" cy="188" r="2.1" fill="#989898" stroke="#505050" stroke-width="0.7"/>
<circle cx="411.1" cy="194.1" r="2.1" fill="#989898" stroke="#505050" stroke-width="0.7"/>
<circle cx="419.3" cy="197.2" r="2.1" fill="#989898" stroke="#505050" stroke-width="0.7"/>
<circle cx="411.1" cy="202.2" r="2.1" fill="#989898" stroke="#505050" stroke-width="0.7"/>
<circle cx="419.3" cy="204.4" r="2.1" fill="#989898" stroke="#505050" stroke-width="0.7"/>
<circle cx="414.9" cy="212.5" r="2.1" fill="#989898" stroke="#505050" stroke-width="0.7"/>
<path d="M442.40,188.50 L444.80,192.90 L440.00,192.90 Z" fill="#fff" stroke="#333" stroke-width="0.65" stroke-linejoin="round"/>
<path d="M450.60,189.10 L453.00,193.50 L448.20,193.50 Z" fill="#fff" stroke="#333" stroke-width="0.65" stroke-linejoin="round"/>
<path d="M446.50,193.30 L448.90,197.70 L444.10,197.70 Z" fill="#fff" stroke="#333" stroke-width="0.65" stroke-linejoin="round"/>
<path d="M442.40,197.70 L444.80,202.10 L440.00,202.10 Z" fill="#fff" stroke="#333" stroke-width="0.65" stroke-linejoin="round"/>
<path d="M450.60,199.80 L453.00,204.20 L448.20,204.20 Z" fill="#fff" stroke="#333" stroke-width="0.65" stroke-linejoin="round"/>
<path d="M442.40,203.90 L444.80,208.30 L440.00,208.30 Z" fill="#fff" stroke="#333" stroke-width="0.65" stroke-linejoin="round"/>
<path d="M442.40,216.50 L444.80,220.90 L440.00,220.90 Z" fill="#fff" stroke="#333" stroke-width="0.65" stroke-linejoin="round"/>
<path d="M450.60,214.20 L453.00,218.60 L448.20,218.60 Z" fill="#fff" stroke="#333" stroke-width="0.65" stroke-linejoin="round"/>
<text x="475.6" y="187.9" font-size="14.2" fill="#111" text-anchor="start" >H</text>
<text transform="translate(488.2,236.1) rotate(-90)" font-size="7.75" fill="#222" text-anchor="middle">CV Taste Bud Width (µm)</text>
<path d="M509.3,288.7 L509.3,213.3 L536.4,213.3 L536.4,288.7" fill="none" stroke="#222" stroke-width="1.3"/>
<path d="M540.6,288.7 L540.6,210.4 L567.6,210.4 L567.6,288.7" fill="none" stroke="#9a9a9a" stroke-width="1.3"/>
<line x1="504.6" y1="187.5" x2="504.6" y2="289.2" stroke="#7a7a7a" stroke-width="1" />
<line x1="501.1" y1="288.7" x2="504.6" y2="288.7" stroke="#7a7a7a" stroke-width="1" />
<text x="500.3" y="291.04" font-size="6.8" fill="#333" text-anchor="end" >0</text>
<line x1="501.1" y1="254.97" x2="504.6" y2="254.97" stroke="#7a7a7a" stroke-width="1" />
<text x="500.3" y="257.31" font-size="6.8" fill="#333" text-anchor="end" >20</text>
<line x1="501.1" y1="221.23" x2="504.6" y2="221.23" stroke="#7a7a7a" stroke-width="1" />
<text x="500.3" y="223.57" font-size="6.8" fill="#333" text-anchor="end" >40</text>
<line x1="501.1" y1="187.5" x2="504.6" y2="187.5" stroke="#7a7a7a" stroke-width="1" />
<text x="500.3" y="189.84" font-size="6.8" fill="#333" text-anchor="end" >60</text>
<line x1="504.1" y1="288.7" x2="572.8" y2="288.7" stroke="#666" stroke-width="1.1" />
<line x1="523.2" y1="288.7" x2="523.2" y2="291.3" stroke="#555" stroke-width="0.9" />
<text x="523.2" y="298.6" font-size="6.9" fill="#222" text-anchor="middle" >Con</text>
<line x1="554.6" y1="288.7" x2="554.6" y2="291.3" stroke="#555" stroke-width="0.9" />
<text x="554.6" y="298.6" font-size="6.9" fill="#222" text-anchor="middle" >Ace-K</text>
<circle cx="514.7" cy="208.5" r="2.1" fill="#989898" stroke="#505050" stroke-width="0.7"/>
<circle cx="522.9" cy="207.1" r="2.1" fill="#989898" stroke="#505050" stroke-width="0.7"/>
<circle cx="522.9" cy="211.2" r="2.1" fill="#989898" stroke="#505050" stroke-width="0.7"/>
<circle cx="531.2" cy="205.3" r="2.1" fill="#989898" stroke="#505050" stroke-width="0.7"/>
<circle cx="531.2" cy="209.4" r="2.1" fill="#989898" stroke="#505050" stroke-width="0.7"/>
<circle cx="522.9" cy="235.5" r="2.1" fill="#989898" stroke="#505050" stroke-width="0.7"/>
<path d="M546.30,198.70 L548.70,203.10 L543.90,203.10 Z" fill="#fff" stroke="#333" stroke-width="0.65" stroke-linejoin="round"/>
<path d="M554.50,202.70 L556.90,207.10 L552.10,207.10 Z" fill="#fff" stroke="#333" stroke-width="0.65" stroke-linejoin="round"/>
<path d="M562.40,203.50 L564.80,207.90 L560.00,207.90 Z" fill="#fff" stroke="#333" stroke-width="0.65" stroke-linejoin="round"/>
<path d="M546.30,209.70 L548.70,214.10 L543.90,214.10 Z" fill="#fff" stroke="#333" stroke-width="0.65" stroke-linejoin="round"/>
<path d="M554.50,208.20 L556.90,212.60 L552.10,212.60 Z" fill="#fff" stroke="#333" stroke-width="0.65" stroke-linejoin="round"/>
<path d="M554.50,211.30 L556.90,215.70 L552.10,215.70 Z" fill="#fff" stroke="#333" stroke-width="0.65" stroke-linejoin="round"/>
<path d="M562.40,209.70 L564.80,214.10 L560.00,214.10 Z" fill="#fff" stroke="#333" stroke-width="0.65" stroke-linejoin="round"/>
<path d="M554.50,218.20 L556.90,222.60 L552.10,222.60 Z" fill="#fff" stroke="#333" stroke-width="0.65" stroke-linejoin="round"/>
<text x="588.0" y="187.0" font-size="14.2" fill="#111" text-anchor="start" >I</text>
<text transform="translate(597.4,236.55) rotate(-90)" font-size="7.7" fill="#222" text-anchor="middle">CV Taste Bud Height/Width</text>
<path d="M620.5,288.7 L620.5,209.2 L647.5,209.2 L647.5,288.7" fill="none" stroke="#222" stroke-width="1.3"/>
<path d="M651.8,288.7 L651.8,215.4 L679.0,215.4 L679.0,288.7" fill="none" stroke="#9a9a9a" stroke-width="1.3"/>
<line x1="615.2" y1="187.6" x2="615.2" y2="289.2" stroke="#7a7a7a" stroke-width="1" />
<line x1="611.7" y1="288.7" x2="615.2" y2="288.7" stroke="#7a7a7a" stroke-width="1" />
<text x="611.9" y="291.14" font-size="7.1" fill="#333" text-anchor="end" >0.0</text>
<line x1="611.7" y1="263.43" x2="615.2" y2="263.43" stroke="#7a7a7a" stroke-width="1" />
<text x="611.9" y="265.87" font-size="7.1" fill="#333" text-anchor="end" >0.5</text>
<line x1="611.7" y1="238.15" x2="615.2" y2="238.15" stroke="#7a7a7a" stroke-width="1" />
<text x="611.9" y="240.59" font-size="7.1" fill="#333" text-anchor="end" >1.0</text>
<line x1="611.7" y1="212.88" x2="615.2" y2="212.88" stroke="#7a7a7a" stroke-width="1" />
<text x="611.9" y="215.32" font-size="7.1" fill="#333" text-anchor="end" >1.5</text>
<line x1="611.7" y1="187.6" x2="615.2" y2="187.6" stroke="#7a7a7a" stroke-width="1" />
<text x="611.9" y="190.04" font-size="7.1" fill="#333" text-anchor="end" >2.0</text>
<line x1="614.7" y1="288.7" x2="684.3" y2="288.7" stroke="#666" stroke-width="1.1" />
<line x1="634.1" y1="288.7" x2="634.1" y2="291.3" stroke="#555" stroke-width="0.9" />
<text x="634.1" y="298.6" font-size="6.9" fill="#222" text-anchor="middle" >Con</text>
<line x1="665.4" y1="288.7" x2="665.4" y2="291.3" stroke="#555" stroke-width="0.9" />
<text x="665.4" y="298.6" font-size="6.9" fill="#222" text-anchor="middle" >Ace-K</text>
<circle cx="633.9" cy="192.3" r="2.1" fill="#989898" stroke="#505050" stroke-width="0.7"/>
<circle cx="633.9" cy="200.7" r="2.1" fill="#989898" stroke="#505050" stroke-width="0.7"/>
<circle cx="633.9" cy="208.1" r="2.1" fill="#989898" stroke="#505050" stroke-width="0.7"/>
<circle cx="629.8" cy="214.7" r="2.1" fill="#989898" stroke="#505050" stroke-width="0.7"/>
<circle cx="629.8" cy="219.1" r="2.1" fill="#989898" stroke="#505050" stroke-width="0.7"/>
<circle cx="638.1" cy="216.1" r="2.1" fill="#989898" stroke="#505050" stroke-width="0.7"/>
<path d="M665.50,199.50 L667.90,203.90 L663.10,203.90 Z" fill="#fff" stroke="#333" stroke-width="0.65" stroke-linejoin="round"/>
<path d="M661.40,204.30 L663.80,208.70 L659.00,208.70 Z" fill="#fff" stroke="#333" stroke-width="0.65" stroke-linejoin="round"/>
<path d="M669.50,205.20 L671.90,209.60 L667.10,209.60 Z" fill="#fff" stroke="#333" stroke-width="0.65" stroke-linejoin="round"/>
<path d="M653.40,214.60 L655.80,219.00 L651.00,219.00 Z" fill="#fff" stroke="#333" stroke-width="0.65" stroke-linejoin="round"/>
<path d="M661.40,217.00 L663.80,221.40 L659.00,221.40 Z" fill="#fff" stroke="#333" stroke-width="0.65" stroke-linejoin="round"/>
<path d="M669.50,217.00 L671.90,221.40 L667.10,221.40 Z" fill="#fff" stroke="#333" stroke-width="0.65" stroke-linejoin="round"/>
<path d="M677.70,214.60 L680.10,219.00 L675.30,219.00 Z" fill="#fff" stroke="#333" stroke-width="0.65" stroke-linejoin="round"/>
<path d="M665.50,231.40 L667.90,235.80 L663.10,235.80 Z" fill="#fff" stroke="#333" stroke-width="0.65" stroke-linejoin="round"/>
<text x="187.2" y="24.8" font-size="14.2" fill="#111" text-anchor="start" >B</text>
<text transform="translate(206.5,82.45) rotate(-90)" font-size="8.7" fill="#222" text-anchor="middle">Number of Fungiform Papillae</text>
<path d="M230.2,139.4 L230.2,84.4" stroke="#e6b4b4" stroke-width="1.2" fill="none"/>
<path d="M230.2,84.4 L261.6,84.4 L261.6,139.4" stroke="#a83c3c" stroke-width="1.2" fill="none"/>
<path d="M265.2,139.4 L265.2,98.2 L296.2,98.2 L296.2,139.4" stroke="#ee6a6a" stroke-width="1.2" fill="none"/>
<rect x="224" y="121.3" width="78" height="7.3" fill="#fff"/>
<line x1="227.5" y1="25.0" x2="227.5" y2="120.4" stroke="#333" stroke-width="1" />
<line x1="227.5" y1="129.4" x2="227.5" y2="139.4" stroke="#333" stroke-width="1" />
<line x1="225.1" y1="120.4" x2="229.9" y2="120.4" stroke="#333" stroke-width="1" />
<line x1="225.1" y1="129.4" x2="229.9" y2="129.4" stroke="#333" stroke-width="1" />
<line x1="224.0" y1="25.0" x2="227.5" y2="25.0" stroke="#333" stroke-width="1" />
<text x="223.3" y="27.89" font-size="8.39" fill="#333" text-anchor="end" textLength="12.18" lengthAdjust="spacingAndGlyphs">250</text>
<line x1="224.0" y1="63.2" x2="227.5" y2="63.2" stroke="#333" stroke-width="1" />
<text x="223.3" y="66.09" font-size="8.39" fill="#333" text-anchor="end" textLength="12.18" lengthAdjust="spacingAndGlyphs">200</text>
<line x1="224.0" y1="101.4" x2="227.5" y2="101.4" stroke="#333" stroke-width="1" />
<text x="223.3" y="104.29" font-size="8.39" fill="#333" text-anchor="end" textLength="12.18" lengthAdjust="spacingAndGlyphs">150</text>
<text x="223.3" y="142.29" font-size="8.39" fill="#333" text-anchor="end" textLength="4.06" lengthAdjust="spacingAndGlyphs">0</text>
<line x1="224.6" y1="139.4" x2="299.0" y2="139.4" stroke="#bdbdbd" stroke-width="1.5" />
<line x1="245.5" y1="139.4" x2="245.5" y2="141.9" stroke="#777" stroke-width="1" />
<text x="245.5" y="151.2" font-size="7.3" fill="#222" text-anchor="middle" >Con</text>
<line x1="280.5" y1="139.4" x2="280.5" y2="141.9" stroke="#777" stroke-width="1" />
<text x="280.5" y="151.2" font-size="7.3" fill="#222" text-anchor="middle" >Ace-K</text>
<circle cx="245.6" cy="61.5" r="2.45" fill="#ff0000" stroke="#333" stroke-width="0.6"/>
<circle cx="245.6" cy="78.7" r="2.45" fill="#ff0000" stroke="#333" stroke-width="0.6"/>
<circle cx="245.6" cy="91.5" r="2.45" fill="#ff0000" stroke="#333" stroke-width="0.6"/>
<circle cx="237" cy="96.1" r="2.45" fill="#ff0000" stroke="#333" stroke-width="0.6"/>
<circle cx="253.8" cy="92.5" r="2.45" fill="#ff0000" stroke="#333" stroke-width="0.6"/>
<path d="M276.30,85.40 L278.70,90.20 L273.90,90.20 Z" fill="#f49a9a" stroke="#333" stroke-width="0.7" stroke-linejoin="round"/>
<path d="M285.50,88.20 L287.90,93.00 L283.10,93.00 Z" fill="#f49a9a" stroke="#333" stroke-width="0.7" stroke-linejoin="round"/>
<path d="M266.90,96.80 L269.30,101.60 L264.50,101.60 Z" fill="#f49a9a" stroke="#333" stroke-width="0.7" stroke-linejoin="round"/>
<path d="M276.10,96.80 L278.50,101.60 L273.70,101.60 Z" fill="#f49a9a" stroke="#333" stroke-width="0.7" stroke-linejoin="round"/>
<path d="M285.50,96.80 L287.90,101.60 L283.10,101.60 Z" fill="#f49a9a" stroke="#333" stroke-width="0.7" stroke-linejoin="round"/>
<path d="M294.50,96.80 L296.90,101.60 L292.10,101.60 Z" fill="#f49a9a" stroke="#333" stroke-width="0.7" stroke-linejoin="round"/>
<path d="M280.90,103.80 L283.30,108.60 L278.50,108.60 Z" fill="#f49a9a" stroke="#333" stroke-width="0.7" stroke-linejoin="round"/>
<polygon points="281.40,74.15 282.16,75.95 284.11,76.12 282.64,77.40 283.08,79.31 281.40,78.30 279.72,79.31 280.16,77.40 278.69,76.12 280.64,75.95" fill="#111"/>
</svg>
</body></html>
